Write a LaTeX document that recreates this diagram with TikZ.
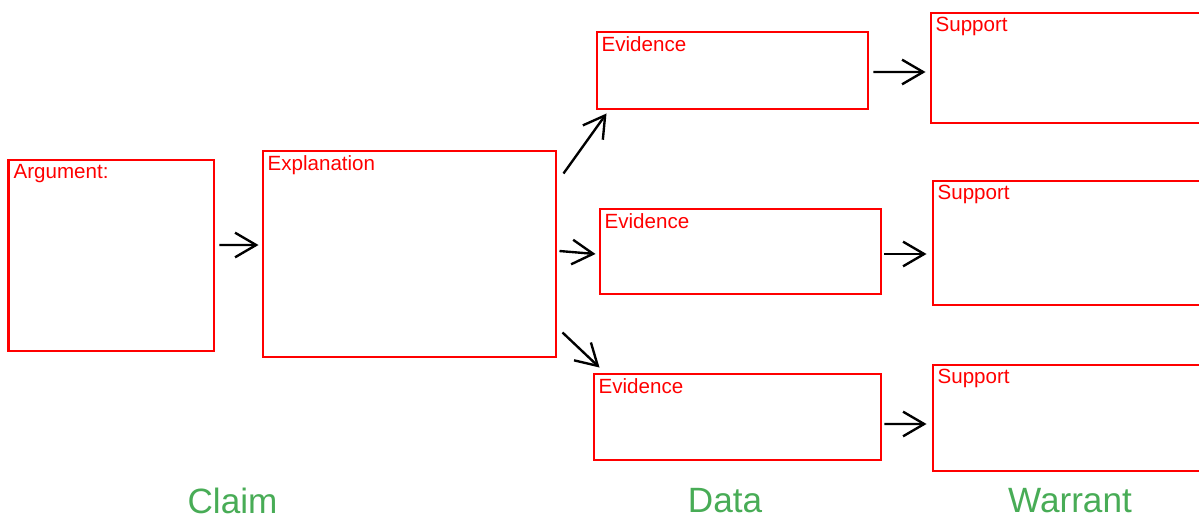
\documentclass[tikz,border=0pt]{standalone}
\usepackage{fontspec}
\setmainfont{Liberation Sans}
\usetikzlibrary{arrows.meta}
\definecolor{claimgreen}{RGB}{72,172,86}
\tikzset{
  box/.style={draw=red,line width=1.7pt,rectangle,anchor=north west,inner sep=0pt},
  lbl/.style={anchor=north west,text=red,font=\fontsize{11.7}{13}\selectfont,inner sep=2pt,xshift=1.3pt,yshift=-1pt},
  arr/.style={line width=1.35pt,-{Straight Barb[length=12pt,width=14pt,line width=1.35pt]}},
  col/.style={text=claimgreen,font=\fontsize{20}{24}\selectfont}
}
\begin{document}
\begin{tikzpicture}
  \useasboundingbox (0,0) rectangle (23.98,-10.38);
  \clip (0,0) rectangle (23.98,-10.38);

  \node[box,minimum width=4.10cm,minimum height=3.82cm] (arg) at (0.15,-3.17) {};
  \node[box,minimum width=5.86cm,minimum height=4.12cm] (expl) at (5.23,-2.99) {};
  \node[box,minimum width=5.42cm,minimum height=1.54cm] (ev1) at (11.91,-0.61) {};
  \node[box,minimum width=5.62cm,minimum height=1.70cm] (ev2) at (11.97,-4.15) {};
  \node[box,minimum width=5.74cm,minimum height=1.72cm] (ev3) at (11.85,-7.45) {};
  \node[box,minimum width=5.70cm,minimum height=2.20cm] (sup1) at (18.59,-0.23) {};
  \node[box,minimum width=5.60cm,minimum height=2.48cm] (sup2) at (18.63,-3.59) {};
  \node[box,minimum width=5.60cm,minimum height=2.12cm] (sup3) at (18.63,-7.27) {};

  \node[lbl] (argtxt) at (arg.north west) {Argument:};
  \node[lbl] (expltxt) at (expl.north west) {Explanation};
  \node[lbl] (ev1txt) at (ev1.north west) {Evidence};
  \node[lbl] (ev2txt) at (ev2.north west) {Evidence};
  \node[lbl] (ev3txt) at (ev3.north west) {Evidence};
  \node[lbl] (sup1txt) at (sup1.north west) {Support};
  \node[lbl] (sup2txt) at (sup2.north west) {Support};
  \node[lbl] (sup3txt) at (sup3.north west) {Support};

  \draw[arr] ([shift={(0.08,0.21)}]arg.east) -- ([shift={(-0.06,0.18)}]expl.west);
  \draw[arr] ([shift={(0.12,-0.48)}]expl.north east) -- ([shift={(0.22,-0.06)}]ev1.south west);
  \draw[arr] ([shift={(0.04,0.06)}]expl.east) -- ([shift={(-0.06,-0.05)}]ev2.west);
  \draw[arr] ([shift={(0.10,0.52)}]expl.south east) -- ([shift={(0.14,0.10)}]ev3.north west);
  \draw[arr] ([shift={(0.08,-0.03)}]ev1.east) -- ([shift={(-0.08,-0.08)}]sup1.west);
  \draw[arr] ([shift={(0.04,-0.05)}]ev2.east) -- ([shift={(-0.10,-0.22)}]sup2.west);
  \draw[arr] ([shift={(0.04,-0.14)}]ev3.east) -- ([shift={(-0.10,-0.12)}]sup3.west);

  \node[col] (claim) at (4.65,-10.02) {Claim};
  \node[col] (data) at (14.50,-10.02) {Data};
  \node[col] (warrant) at (21.40,-10.02) {Warrant};
\end{tikzpicture}
\end{document}
